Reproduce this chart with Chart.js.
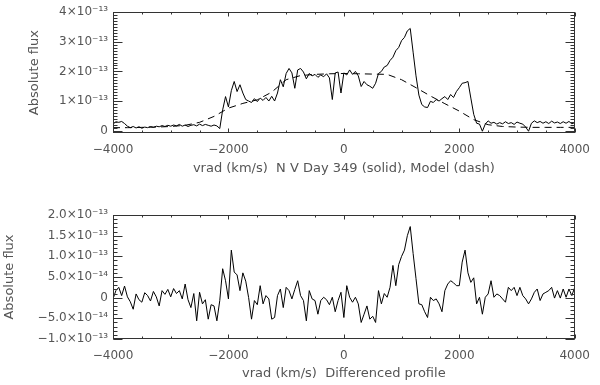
<!DOCTYPE html>
<html>
<head>
<meta charset="utf-8">
<script src="https://cdn.jsdelivr.net/npm/chart.js@4.4.1/dist/chart.umd.min.js"></script>
<style>
  html, body { margin: 0; padding: 0; background: #fff; }
  #wrap { position: relative; width: 600px; height: 385px; }
  canvas { position: absolute; left: 0; }
  #c1 { top: 0; }
  #c2 { top: 190px; }
</style>
</head>
<body>
<div id="wrap">
  <canvas id="c1" width="600" height="190"></canvas>
  <canvas id="c2" width="600" height="195"></canvas>
</div>
<script>
// ---------- DATA (flux in units of 1e-13) ----------
const topVel = [
 -4000,-3950,-3900,-3850,-3800,-3750,-3700,-3650,-3600,-3550,-3500,-3450,-3400,-3350,-3300,-3250,-3200,-3150,-3100,-3050,
 -3000,-2950,-2900,-2850,-2800,-2750,-2700,-2650,-2600,-2550,-2500,-2450,-2400,-2350,-2300,-2250,-2200,-2150,-2100,-2050,
 -2000,-1950,-1900,-1850,-1800,-1750,-1700,-1650,-1600,-1550,-1500,-1450,-1400,-1350,-1300,-1250,-1200,-1150,-1100,-1050,
 -1000,-950,-900,-850,-800,-750,-700,-650,-600,-550,-500,-450,-400,-350,-300,-250,-200,-150,-100,-50,
 0,50,100,150,200,250,300,350,400,450,500,550,600,650,700,750,800,850,900,950,
 1000,1050,1100,1150,1200,1250,1300,1350,1400,1450,1500,1550,1600,1650,1700,1750,1800,1850,1900,1950,
 2000,2050,2100,2150,2200,2250,2300,2350,2400,2450,2500,2550,2600,2650,2700,2750,2800,2850,2900,2950,
 3000,3050,3100,3150,3200,3250,3300,3350,3400,3450,3500,3550,3600,3650,3700,3750,3800,3850,3900,3950,
 4000];
const topFlux = [
 0.22,0.30,0.28,0.31,0.24,0.15,0.10,0.14,0.09,0.13,0.08,0.12,0.10,0.14,0.11,0.15,0.13,0.17,0.14,0.18,
 0.15,0.19,0.16,0.21,0.15,0.19,0.14,0.18,0.20,0.16,0.22,0.17,0.21,0.18,0.15,0.19,0.16,0.07,0.70,1.15,
 0.80,1.35,1.66,1.32,1.55,1.27,1.05,1.00,0.95,1.08,0.98,1.10,1.02,1.12,1.00,1.16,1.00,1.27,1.72,1.48,
 1.93,2.10,1.95,1.43,2.05,2.10,1.98,1.75,1.93,1.85,1.90,1.80,1.88,1.82,1.92,1.78,1.05,1.95,1.98,1.27,
 1.95,1.88,2.05,1.90,2.00,1.85,1.49,1.66,1.55,1.50,1.43,1.60,1.93,2.00,2.15,2.20,2.37,2.48,2.70,2.81,
 3.04,3.15,3.37,3.45,2.65,1.85,1.20,0.88,0.80,0.78,0.99,0.95,1.05,1.00,1.08,1.15,1.05,1.22,1.12,1.32,
 1.45,1.60,1.62,1.66,1.10,0.55,0.25,0.22,-0.02,0.22,0.33,0.25,0.28,0.22,0.27,0.23,0.30,0.24,0.27,0.21,
 0.29,0.25,0.22,0.12,-0.02,0.25,0.33,0.27,0.31,0.25,0.30,0.24,0.32,0.26,0.29,0.24,0.30,0.25,0.31,0.23,
 0.27];

const modelVel = [-4000,-3750,-3500,-3250,-3000,-2750,-2500,-2250,-2000,-1750,-1500,-1250,-1000,-750,-500,-250,
 0,250,500,750,1000,1250,1500,1750,2000,2250,2500,2750,3000,3250,3500,3750,4000];
const modelFlux = [0.10,0.10,0.11,0.12,0.14,0.18,0.28,0.48,0.76,0.92,1.04,1.30,1.72,1.86,1.90,1.92,
 1.93,1.92,1.91,1.90,1.72,1.45,1.17,0.91,0.66,0.37,0.20,0.14,0.12,0.11,0.11,0.11,0.11];

const diffVel = topVel;
const diffFlux = [
 -0.03,0.17,0.25,0.05,0.28,0.02,-0.10,-0.28,0.09,-0.05,-0.11,0.12,0.05,-0.08,0.15,0.02,-0.20,0.17,0.08,0.20,
 0.02,0.22,0.10,0.17,-0.03,0.33,-0.05,-0.24,0.10,-0.56,0.13,-0.15,-0.05,-0.52,-0.17,-0.20,-0.56,-0.07,0.70,0.41,
 -0.03,1.15,0.62,0.55,0.17,0.60,0.40,0.00,-0.52,-0.07,-0.17,0.29,-0.15,0.05,-0.03,-0.52,-0.48,0.05,0.21,-0.24,
 0.25,0.17,-0.03,0.20,0.41,0.05,-0.07,-0.56,0.17,-0.03,-0.07,-0.40,-0.07,0.01,-0.05,-0.17,0.01,-0.34,-0.07,0.13,
 -0.48,0.29,0.01,-0.11,0.01,-0.15,-0.60,-0.40,-0.20,-0.52,-0.45,-0.60,0.17,-0.15,0.10,0.01,0.25,0.78,0.29,0.80,
 1.00,1.15,1.50,1.72,1.07,0.46,-0.15,-0.17,-0.34,-0.48,0.01,-0.07,-0.03,-0.15,-0.34,0.17,0.33,0.41,0.36,0.29,
 0.29,0.86,1.15,0.60,0.37,0.48,-0.15,0.01,-0.40,0.01,0.09,0.41,0.01,0.09,0.05,-0.03,-0.11,0.25,0.17,0.25,
 0.05,0.25,0.05,-0.03,-0.15,-0.03,0.13,0.21,-0.07,0.09,0.13,0.17,0.25,-0.01,0.17,-0.01,0.21,0.01,0.21,0.05,
 0.25];

const xTickValues = [-4000,-2000,0,2000,4000];
const xTickLabels = ['\u22124000','\u22122000','0','2000','4000'];
const xMinorValues = [-3500,-3000,-2500,-1500,-1000,-500,500,1000,1500,2500,3000,3500];

const topYTickValues = [0,1,2,3,4];
const topYTickLabels = ['0','1\u00d710\u207b\u00b9\u00b3','2\u00d710\u207b\u00b9\u00b3','3\u00d710\u207b\u00b9\u00b3','4\u00d710\u207b\u00b9\u00b3'];
const botYTickValues = [-1,-0.5,0,0.5,1,1.5,2];
const botYTickLabels = ['\u22121.0\u00d710\u207b\u00b9\u00b3','\u22125.0\u00d710\u207b\u00b9\u2074','0',
  '5.0\u00d710\u207b\u00b9\u2074','1.0\u00d710\u207b\u00b9\u00b3','1.5\u00d710\u207b\u00b9\u00b3','2.0\u00d710\u207b\u00b9\u00b3'];

const topTitle = 'vrad (km/s)  N V Day 349 (solid), Model (dash)';
const botTitle = 'vrad (km/s)  Differenced profile';
const yTitle = 'Absolute flux';

// ---------- STYLE ----------
const TEXT = '#555';
const FONT = 'DejaVu Sans';
Chart.defaults.font.family = FONT;
Chart.defaults.color = TEXT;

const framePlugin = {
  id: 'frame',
  afterDatasetsDraw(chart, args, o) {
    const {ctx, chartArea: a, scales: {x, y}} = chart;
    const L = Math.round(a.left) + 0.5, R = Math.round(a.right) - 0.5;
    const T = Math.round(a.top) + 0.5, B = Math.round(a.bottom) - 0.5;
    ctx.save();
    ctx.strokeStyle = '#333';
    ctx.lineWidth = 1;
    ctx.strokeRect(L, T, R - L, B - T);
    ctx.beginPath();
    const xt = (vals, len) => vals.forEach(v => {
      const p = Math.round(x.getPixelForValue(v)) + 0.5;
      ctx.moveTo(p, B); ctx.lineTo(p, B - len);
      ctx.moveTo(p, T); ctx.lineTo(p, T + len);
    });
    const yt = (v, len) => {
      const p = Math.round(y.getPixelForValue(v)) + 0.5;
      ctx.moveTo(L, p); ctx.lineTo(L + len, p);
      ctx.moveTo(R, p); ctx.lineTo(R - len, p);
    };
    xt(o.xMajor, 4);
    xt(o.xMinor, 2);
    const s = o.yMinorStep;
    for (let k = Math.ceil(y.min / s - 1e-6); k * s <= y.max + 1e-6; k++) yt(k * s, 4);
    o.yMajor.forEach(v => yt(v, 9));
    ctx.stroke();
    ctx.restore();
  }
};

function makeChart(id, datasets, cfg) {
  return new Chart(document.getElementById(id), {
    type: 'line',
    data: { datasets },
    options: {
      responsive: false,
      animation: false,
      events: [],
      layout: { padding: { top: cfg.padTop, right: 20, left: 0, bottom: 0 } },
      plugins: {
        legend: { display: false },
        tooltip: { enabled: false },
        frame: { xMajor: xTickValues, xMinor: xMinorValues, yMajor: cfg.yTicks, yMinorStep: 0.1 }
      },
      scales: {
        x: {
          type: 'linear', min: -4000, max: 4000,
          afterBuildTicks: s => { s.ticks = xTickValues.map(v => ({ value: v })); },
          afterFit: s => { s.height = cfg.xHeight; },
          ticks: {
            autoSkip: false, maxRotation: 0, padding: 10, color: TEXT,
            font: { family: FONT, size: 12 },
            callback: v => xTickLabels[xTickValues.indexOf(v)]
          },
          grid: { display: false, drawTicks: false },
          border: { display: false },
          title: { display: true, text: cfg.xTitle, color: TEXT, font: { family: FONT, size: 13 },
                   padding: { top: 0, bottom: cfg.xTitlePad } }
        },
        y: {
          type: 'linear', min: cfg.yMin, max: cfg.yMax,
          afterBuildTicks: s => { s.ticks = cfg.yTicks.map(v => ({ value: v })); },
          afterFit: s => { s.width = 113; },
          ticks: {
            autoSkip: false, padding: 5, color: TEXT,
            font: { family: FONT, size: 12 },
            callback: v => cfg.yLabels[cfg.yTicks.indexOf(v)]
          },
          grid: { display: false, drawTicks: false },
          border: { display: false },
          title: { display: true, text: yTitle, color: TEXT, font: { family: FONT, size: 13 },
                   padding: { top: cfg.yTitlePad, bottom: 0 } }
        }
      }
    },
    plugins: [framePlugin]
  });
}

makeChart('c1', [
  { data: topVel.map((v, i) => ({ x: v, y: topFlux[i] })), borderColor: '#000', borderWidth: 1,
    pointRadius: 0, tension: 0 },
  { data: modelVel.map((v, i) => ({ x: v, y: modelFlux[i] })), borderColor: '#000', borderWidth: 1,
    borderDash: [7, 5], pointRadius: 0, tension: 0 }
], { padTop: 10, xHeight: 57, xTitle: topTitle, xTitlePad: 14, yMin: -0.08, yMax: 4,
     yTicks: topYTickValues, yLabels: topYTickLabels, yTitlePad: 27 });

makeChart('c2', [
  { data: diffVel.map((v, i) => ({ x: v, y: diffFlux[i] })), borderColor: '#000', borderWidth: 1,
    pointRadius: 0, tension: 0 }
], { padTop: 25, xHeight: 46, xTitle: botTitle, xTitlePad: 4, yMin: -1, yMax: 2,
     yTicks: botYTickValues, yLabels: botYTickLabels, yTitlePad: 2 });
</script>
</body>
</html>
